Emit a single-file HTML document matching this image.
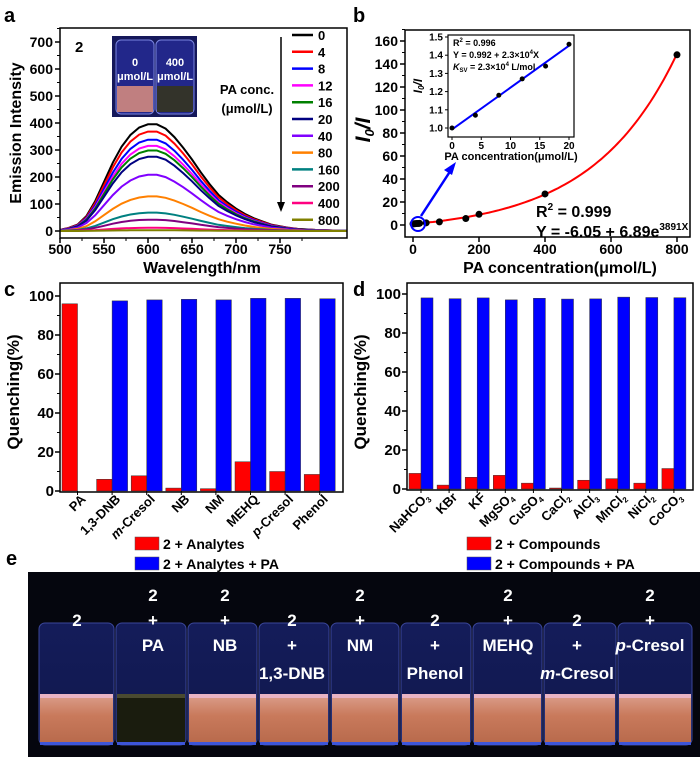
<!DOCTYPE html>
<html><head><meta charset="utf-8">
<style>
html,body{margin:0;padding:0;background:#fff;}
svg{display:block;font-family:"Liberation Sans",Arial,sans-serif;font-weight:bold;}
</style></head>
<body>
<svg id="fig" width="700" height="757" viewBox="0 0 700 757" xmlns="http://www.w3.org/2000/svg">
<defs>
<linearGradient id="liq" x1="0" y1="0" x2="0" y2="1"><stop offset="0" stop-color="#d99a86"/><stop offset="0.4" stop-color="#c97a5c"/><stop offset="1" stop-color="#b86a4c"/></linearGradient>
<linearGradient id="glass" x1="0" y1="0" x2="0" y2="1"><stop offset="0" stop-color="#141c5a"/><stop offset="1" stop-color="#10184c"/></linearGradient>
</defs>
<g id="panelA"></g>
<g id="panelB"></g>
<g id="panelC"></g>
<g id="panelD"></g>
<g id="panelE"></g>
</svg>
<script>
// ---- Panel a data ----
const aConc = ["0","4","8","12","16","20","40","80","160","200","400","800"];
const aPeaks = [395,368,338,315,298,275,208,128,68,42,12,3];
const aColors = ["#000000","#ff0000","#0000ff","#ff00ff","#008000","#000080","#8000ff","#ff8000","#008080","#800080","#ff0080","#808000"];
const aWave = [500,510,520,530,540,550,560,570,580,590,600,610,620,630,640,650,660,670,680,690,700,710,720,730,740,750,760,770,780,790,800,810,820,826];
const aProfile = [0.01,0.03,0.06,0.14,0.28,0.46,0.64,0.79,0.9,0.97,1.0,1.0,0.96,0.88,0.78,0.67,0.55,0.44,0.34,0.27,0.21,0.16,0.12,0.09,0.06,0.045,0.03,0.02,0.015,0.01,0.008,0.005,0.004,0.004];
const aXTicks = [500,550,600,650,700,750];
const aYTicks = [0,100,200,300,400,500,600,700];
// ---- Panel b data ----
const bConc = [0,4,8,12,16,20,40,80,160,200,400,800];
const bRatio = [1.0,1.07,1.18,1.27,1.35,1.46,1.9,2.7,5.6,9.3,27,148];
const bFit = [-6.05,6.89,0.003891];
const bXTicks = [0,200,400,600,800];
const bYTicks = [0,20,40,60,80,100,120,140,160];
const inConc = [0,4,8,12,16,20];
const inRatio = [1.0,1.07,1.18,1.27,1.34,1.46];
const inFit = [0.992,0.023];
const inXTicks = [0,5,10,15,20];
const inYTicks = [1.0,1.1,1.2,1.3,1.4,1.5];
// ---- Panel c data ----
const cCats = ["PA","1,3-DNB","m-Cresol","NB","NM","MEHQ","p-Cresol","Phenol"];
const cRed = [96,6,7.8,1.5,1.2,15,10,8.5];
const cBlue = [0,97.5,98,98.3,98,98.8,98.8,98.6];
const qTicks = [0,20,40,60,80,100];
// ---- Panel d data ----
const dCats = [["NaHCO","3"],["KBr",""],["KF",""],["MgSO","4"],["CuSO","4"],["CaCl","2"],["AlCl","3"],["MnCl","2"],["NiCl","2"],["CoCO","3"]];
const dRed = [8,2,6,7,3,0.5,4.5,5.3,3,10.5];
const dBlue = [98,97.6,98,97,97.8,97.4,97.5,98.4,98.2,98.1];

const NS="http://www.w3.org/2000/svg";
function mk(parent,tag,attrs,text){const e=document.createElementNS(NS,tag);for(const k in attrs)e.setAttribute(k,attrs[k]);if(text!==undefined)e.textContent=text;parent.appendChild(e);return e;}

// ===== Panel A =====
(function(){
const g=document.getElementById('panelA');
const L=60,R=347,T=28,B=238;
const xs=v=>60+(v-500)*0.88, ys=v=>231-v*0.27;
let t=mk(g,'text',{x:4,y:22,'font-size':20});t.textContent='a';


const ph=mk(g,'g',{});


mk(ph,'rect',{x:112,y:36,width:85,height:81,fill:'#15185a'});
mk(ph,'rect',{x:116,y:40,width:38,height:74,rx:5,fill:'#22278a',stroke:'#7b86e0','stroke-width':1});
mk(ph,'rect',{x:156,y:40,width:38,height:74,rx:5,fill:'#22278a',stroke:'#7b86e0','stroke-width':1});
mk(ph,'rect',{x:117,y:86,width:36,height:26,fill:'#c07f80'});
mk(ph,'rect',{x:157,y:86,width:36,height:26,fill:'#33332a'});
mk(ph,'text',{x:135,y:66,'font-size':11,fill:'#fff','text-anchor':'middle'},'0');
mk(ph,'text',{x:135,y:80,'font-size':11,fill:'#fff','text-anchor':'middle'},'μmol/L');
mk(ph,'text',{x:175,y:66,'font-size':11,fill:'#fff','text-anchor':'middle'},'400');
mk(ph,'text',{x:175,y:80,'font-size':11,fill:'#fff','text-anchor':'middle'},'μmol/L');
aPeaks.forEach((p,i)=>{
  const d=aWave.map((w,j)=>(j?'L':'M')+xs(w).toFixed(1)+','+ys(p*aProfile[j]).toFixed(1)).join(' ');
  const c=mk(g,'path',{d:d,fill:'none',stroke:aColors[i],'stroke-width':2});
  
  
});
mk(g,'rect',{x:L,y:T,width:R-L,height:B-T,fill:'none',stroke:'#000','stroke-width':1.5});
mk(g,'text',{x:75,y:52,'font-size':15},'2');
aYTicks.forEach(v=>{mk(g,'line',{x1:L-5,x2:L,y1:ys(v),y2:ys(v),stroke:'#000','stroke-width':1.5});
 mk(g,'line',{x1:L-3,x2:L,y1:ys(v+50),y2:ys(v+50),stroke:'#000'});
 const tt=mk(g,'text',{x:L-7,y:ys(v)+5,'font-size':14,'text-anchor':'end'},String(v));
 });
aXTicks.forEach(v=>{mk(g,'line',{x1:xs(v),x2:xs(v),y1:B,y2:B+5,stroke:'#000','stroke-width':1.5});
 mk(g,'line',{x1:xs(v+25),x2:xs(v+25),y1:B,y2:B+3,stroke:'#000'});
 mk(g,'text',{x:xs(v),y:254,'font-size':14,'text-anchor':'middle'},String(v));});
const yt=mk(g,'text',{x:0,y:0,'font-size':16,'text-anchor':'middle',transform:'translate(21,133) rotate(-90)'},'Emission Intensity');

const xt=mk(g,'text',{x:202,y:273,'font-size':16,'text-anchor':'middle'},'Wavelength/nm');

aConc.forEach((c,i)=>{const y=35+i*16.8;
 const le=mk(g,'g',{});
 mk(le,'line',{x1:292,x2:313,y1:y,y2:y,stroke:aColors[i],'stroke-width':2.5});
 mk(le,'text',{x:318,y:y+5,'font-size':13},c);});
mk(g,'line',{x1:281,x2:281,y1:37,y2:203,stroke:'#000','stroke-width':1.5});
mk(g,'path',{d:'M277,202 L285,202 L281,212 Z',fill:'#000'});
mk(g,'text',{x:247,y:94,'font-size':13,'text-anchor':'middle'},'PA conc.');
mk(g,'text',{x:247,y:113,'font-size':13,'text-anchor':'middle'},'(μmol/L)');
})();

// ===== Panel B =====
(function(){
const g=document.getElementById('panelB');
const L=405,R=690,T=30,B=237;
const xs=v=>413+v*0.33, ys=v=>225-v*1.15;
mk(g,'text',{x:353,y:22,'font-size':20},'b');
mk(g,'rect',{x:L,y:T,width:R-L,height:B-T,fill:'none',stroke:'#000','stroke-width':1.5});
bYTicks.forEach(v=>{mk(g,'line',{x1:L-5,x2:L,y1:ys(v),y2:ys(v),stroke:'#000','stroke-width':1.5});
 mk(g,'line',{x1:L-3,x2:L,y1:ys(v+10),y2:ys(v+10),stroke:'#000'});
 mk(g,'text',{x:L-7,y:ys(v)+5,'font-size':14,'text-anchor':'end'},String(v));});
bXTicks.forEach(v=>{mk(g,'line',{x1:xs(v),x2:xs(v),y1:B,y2:B+5,stroke:'#000','stroke-width':1.5});
 mk(g,'text',{x:xs(v),y:254,'font-size':14,'text-anchor':'middle'},String(v));});
const yt=mk(g,'text',{x:0,y:0,'font-size':21,'font-style':'italic','text-anchor':'middle',transform:'translate(370,130) rotate(-90)'});
yt.innerHTML='I<tspan font-size="13" dy="4">0</tspan><tspan dy="-4">/I</tspan>';

const xt=mk(g,'text',{x:560,y:273,'font-size':16,'text-anchor':'middle'},'PA concentration(μmol/L)');

let d='';for(let x=0;x<=800;x+=10){const y=bFit[0]+bFit[1]*Math.exp(bFit[2]*x);d+=(x?'L':'M')+xs(x).toFixed(1)+','+ys(Math.max(y,0.8)).toFixed(1)+' ';}
const fc=mk(g,'path',{d:d,fill:'none',stroke:'#ff0000','stroke-width':2});

bConc.forEach((c,i)=>{const p=mk(g,'circle',{cx:xs(c),cy:ys(bRatio[i]),r:3.5,fill:'#000'});
 });
mk(g,'circle',{cx:418,cy:224,r:7,fill:'none',stroke:'#0000ff','stroke-width':2});
mk(g,'line',{x1:421,y1:216,x2:451,y2:170,stroke:'#0000ff','stroke-width':2.5});
mk(g,'path',{d:'M456,162 L452,175 L444,170 Z',fill:'#0000ff'});
const t1=mk(g,'text',{x:536,y:217,'font-size':16});t1.innerHTML='R<tspan font-size="10" dy="-7">2</tspan><tspan dy="7"> = 0.999</tspan>';
const t2=mk(g,'text',{x:536,y:237,'font-size':16});t2.innerHTML='Y = -6.05 + 6.89e<tspan font-size="10" dy="-7">3891X</tspan>';
const ig=mk(g,'g',{});
const ix=v=>452+v*5.85, iy=v=>128-(v-1)*182;
mk(ig,'rect',{x:448,y:35,width:126,height:102,fill:'#fff',stroke:'#000','stroke-width':1.2});
inYTicks.forEach(v=>{mk(ig,'line',{x1:445,x2:448,y1:iy(v),y2:iy(v),stroke:'#000'});
 mk(ig,'text',{x:443,y:iy(v)+3.5,'font-size':10,'text-anchor':'end'},v.toFixed(1));});
inXTicks.forEach(v=>{mk(ig,'line',{x1:ix(v),x2:ix(v),y1:137,y2:140,stroke:'#000'});
 mk(ig,'text',{x:ix(v),y:149,'font-size':10,'text-anchor':'middle'},String(v));});
mk(ig,'text',{x:511,y:160,'font-size':11,'text-anchor':'middle'},'PA concentration(μmol/L)');
const iyt=mk(ig,'text',{x:0,y:0,'font-size':12,'font-style':'italic','text-anchor':'middle',transform:'translate(422,86) rotate(-90)'});
iyt.innerHTML='I<tspan font-size="8" dy="2">0</tspan><tspan dy="-2">/I</tspan>';
const il=mk(ig,'line',{x1:ix(0),y1:iy(inFit[0]),x2:ix(20),y2:iy(inFit[0]+inFit[1]*20),stroke:'#0000ff','stroke-width':2});

inConc.forEach((c,i)=>{const p=mk(ig,'circle',{cx:ix(c),cy:iy(inRatio[i]),r:2.5,fill:'#000'});
 });
const a1=mk(ig,'text',{x:453,y:46,'font-size':9});a1.innerHTML='R<tspan font-size="6" dy="-4">2</tspan><tspan dy="4"> = 0.996</tspan>';
const a2=mk(ig,'text',{x:453,y:58,'font-size':9});a2.innerHTML='Y = 0.992 + 2.3×10<tspan font-size="6" dy="-4">4</tspan><tspan dy="4">X</tspan>';
const a3=mk(ig,'text',{x:453,y:70,'font-size':9});a3.innerHTML='<tspan font-style="italic">K</tspan><tspan font-size="6" dy="2">SV</tspan><tspan dy="-2"> = 2.3×10</tspan><tspan font-size="6" dy="-4">4</tspan><tspan dy="4"> L/mol</tspan>';
})();

// ===== Bar panels =====
function barPanel(gid,letter,lx,L,R,T,B0,start,step,bw,cats,red,blue,leg1,leg2,swx,sub){
const g=document.getElementById(gid);
const ys=v=>B0-v*1.95;
mk(g,'text',{x:lx,y:296,'font-size':20},letter);
mk(g,'rect',{x:L,y:T,width:R-L,height:B0+1-T,fill:'none',stroke:'#000','stroke-width':1.5});
qTicks.forEach(v=>{mk(g,'line',{x1:L-5,x2:L,y1:ys(v),y2:ys(v),stroke:'#000','stroke-width':1.5});
 if(v<100)mk(g,'line',{x1:L-3,x2:L,y1:ys(v+10),y2:ys(v+10),stroke:'#000'});
 mk(g,'text',{x:L-6,y:ys(v)+5,'font-size':15,'text-anchor':'end'},String(v));});
const yt=mk(g,'text',{x:0,y:0,'font-size':17,'text-anchor':'middle',transform:'translate('+(L-41)+',392) rotate(-90)'},'Quenching(%)');

cats.forEach((c,i)=>{const x0=start+i*step;
 const r=mk(g,'rect',{x:x0,y:ys(red[i]),width:bw,height:Math.max(ys(0)-ys(red[i]),0.5),fill:'#ff0000',stroke:'#333','stroke-width':0.5});
 
 if(blue[i]>0){const b=mk(g,'rect',{x:x0+bw,y:ys(blue[i]),width:bw,height:ys(0)-ys(blue[i]),fill:'#0000ff',stroke:'#333','stroke-width':0.5});
 }
 const cx=x0+bw+9;
 mk(g,'line',{x1:x0+bw,x2:x0+bw,y1:B0,y2:B0+4,stroke:'#000'});
 const t=mk(g,'text',{x:0,y:0,'font-size':13,'text-anchor':'end',transform:'translate('+cx+','+(B0+9)+') rotate(-45)'});
 if(sub){t.innerHTML=c[0]+(c[1]?'<tspan font-size="8" dy="3">'+c[1]+'</tspan>':'');}
 else{t.textContent=c; if(c.indexOf('-Cresol')>0){t.innerHTML='<tspan font-style="italic">'+c[0]+'</tspan>-Cresol';}}
 
});
[[leg1,'#ff0000',537],[leg2,'#0000ff',557]].forEach(([txt,col,y])=>{
 const le=mk(g,'g',{});
 mk(le,'rect',{x:swx,y:y,width:24,height:13,fill:col,stroke:'#555','stroke-width':0.5});
 mk(le,'text',{x:swx+28,y:y+12,'font-size':14},txt);});
}
barPanel('panelC','c',4,60,343,283,491,62,34.6,15.5,cCats,cRed,cBlue,'2 + Analytes','2 + Analytes + PA',135,false);
barPanel('panelD','d',353,407,693,283,489,409,28.1,12,dCats,dRed,dBlue,'2 + Compounds','2 + Compounds + PA',467,true);

// ===== Panel E photo =====
(function(){
const g=document.getElementById('panelE');
mk(g,'text',{x:6,y:565,'font-size':20},'e');
mk(g,'rect',{x:28,y:572,width:672,height:185,fill:'#05060e'});
const edges=[38,115,187,258,330,400,472,543,617,693];
for(let i=0;i<9;i++){const x=edges[i],w=edges[i+1]-x;
 const v=mk(g,'g',{});
 mk(v,'rect',{x:x+1,y:623,width:w-2,height:122,rx:6,fill:'url(#glass)',stroke:'#3a469a','stroke-width':1});
 mk(v,'rect',{x:x+2,y:697,width:w-4,height:46,fill:i==1?'#1a1c0e':'url(#liq)'});
 mk(v,'rect',{x:x+2,y:694,width:w-4,height:4,fill:i==1?'#4a4a30':'#e8b4c4'});
 mk(v,'rect',{x:x+2,y:742,width:w-4,height:3,fill:'#3d55d8'});}
const labels=[[77,[null,'2',null,null]],[153,['2','+','PA',null]],[225,['2','+','NB',null]],[292,[null,'2','+','1,3-DNB']],[360,['2','+','NM',null]],[435,[null,'2','+','Phenol']],[508,['2','+','MEHQ',null]],[577,[null,'2','+','m-Cresol']],[650,['2','+','p-Cresol',null]]];
const rows=[601,626,651,679];
labels.forEach(([x,arr])=>arr.forEach((s,r)=>{if(!s)return;
 const t=mk(g,'text',{x:x,y:rows[r],'font-size':17,fill:'#fff','text-anchor':'middle'});
 if(s.indexOf('-Cresol')>0)t.innerHTML='<tspan font-style="italic">'+s[0]+'</tspan>-Cresol';else t.textContent=s;
 }));
})();
</script>
</body></html>
